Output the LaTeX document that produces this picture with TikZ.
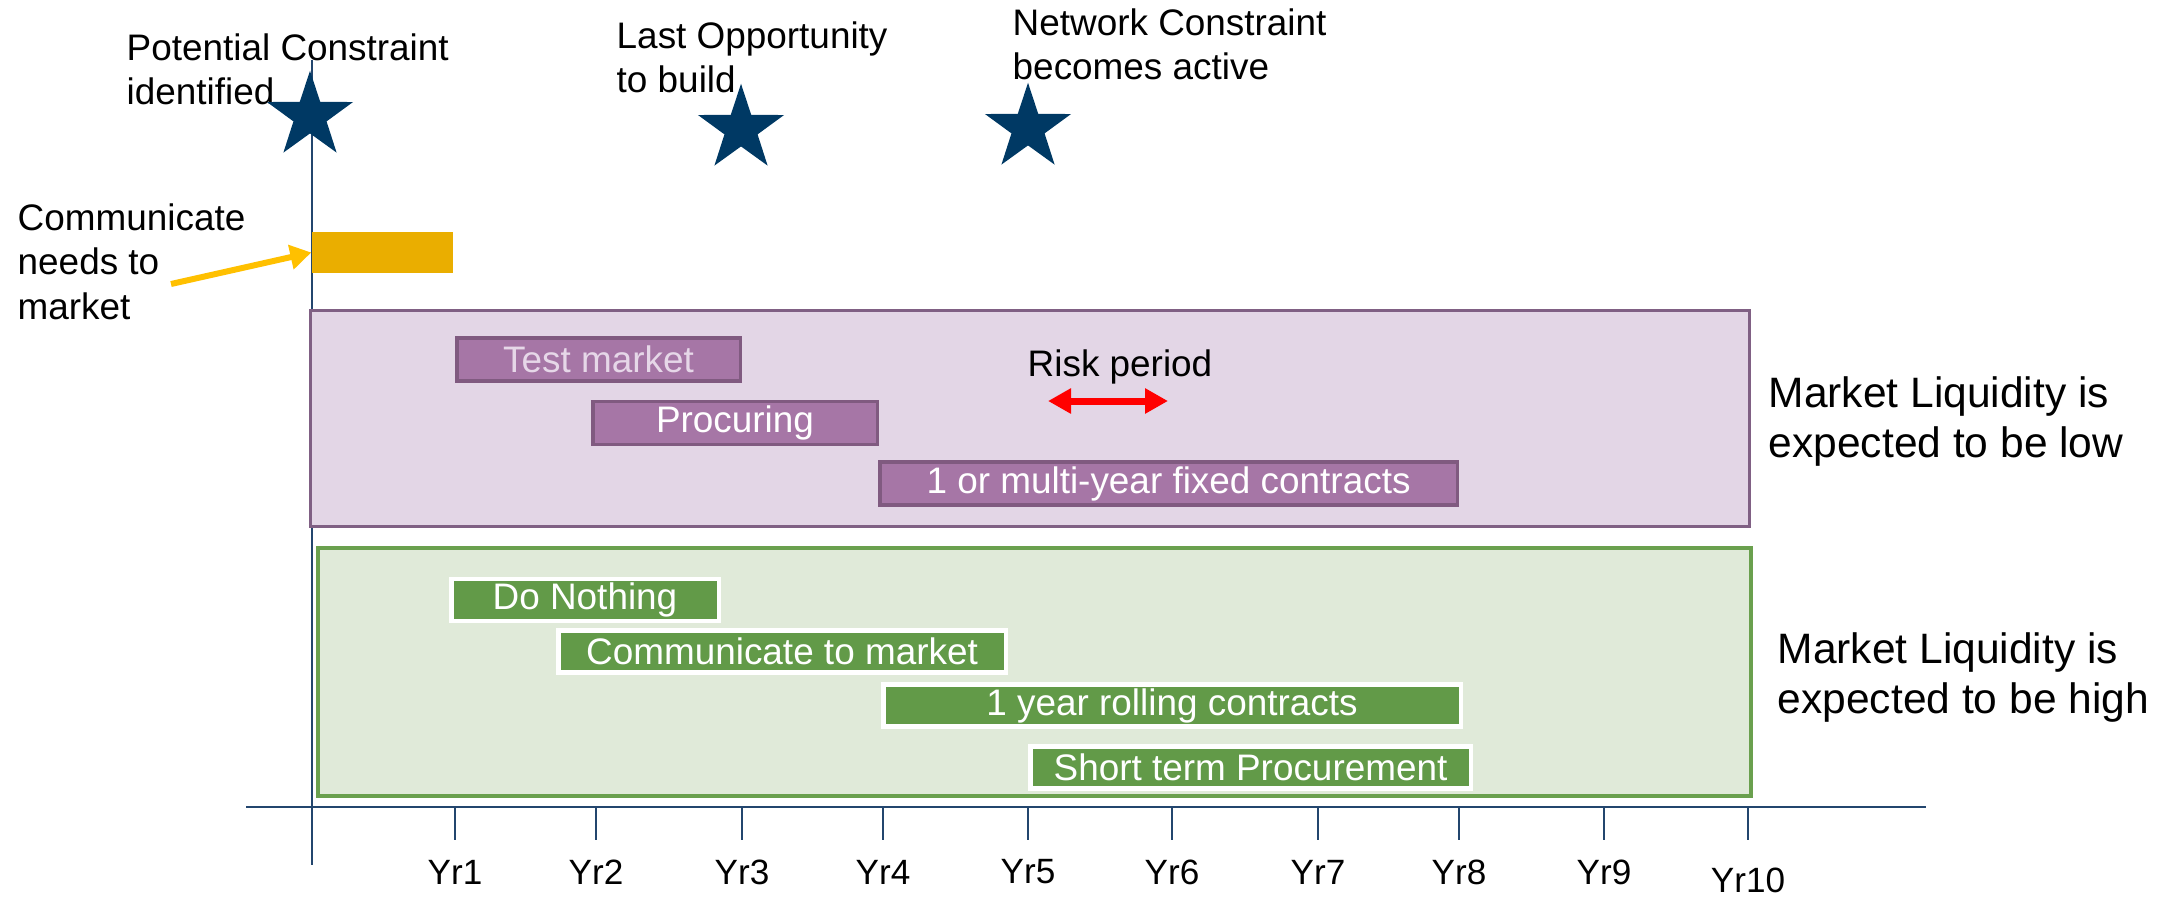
\documentclass[tikz,border=0pt]{standalone}
\usepackage{fontspec}
\setmainfont{Liberation Sans}
\usetikzlibrary{shapes.geometric,arrows.meta}

\definecolor{starblue}{RGB}{0,57,100}
\definecolor{axisblue}{RGB}{35,70,110}
\definecolor{barorange}{RGB}{234,174,0}
\definecolor{arrowyellow}{RGB}{255,192,0}
\definecolor{lowfill}{RGB}{227,214,230}
\definecolor{lowedge}{RGB}{128,96,132}
\definecolor{purplebar}{RGB}{166,118,166}
\definecolor{purpleedge}{RGB}{128,90,128}
\definecolor{paletext}{RGB}{230,215,232}
\definecolor{highfill}{RGB}{224,234,217}
\definecolor{highedge}{RGB}{106,160,78}
\definecolor{greenbar}{RGB}{98,154,72}

\begin{document}
\begin{tikzpicture}[x=0.1mm,y=-0.1mm,
    lbl/.style={font=\fontsize{10.5}{12.6}\selectfont,align=left,anchor=north west,inner sep=0pt},
    biglbl/.style={font=\fontsize{12.1}{14.2}\selectfont,align=left,anchor=north west,inner sep=0pt},
    yrlbl/.style={font=\fontsize{10}{12}\selectfont,inner sep=0pt},
    axisline/.style={draw=axisblue,line width=0.2mm},
    milestone/.style={star,star points=5,star point ratio=2.6,fill=starblue,draw=starblue,minimum size=8.6mm,inner sep=0pt},
    panel/.style={rectangle,inner sep=0pt},
    pbar/.style={rectangle,fill=purplebar,draw=purpleedge,line width=0.35mm,text=white,inner sep=0pt,minimum height=4.3mm,font=\fontsize{10.5}{12}\selectfont},
    gbar/.style={rectangle,fill=greenbar,draw=white,line width=0.45mm,text=white,inner sep=0pt,minimum height=4.2mm,font=\fontsize{10.5}{12}\selectfont}]
  \useasboundingbox (0,0) rectangle (2167,897);

  % time axis
  \coordinate (axisN) at ( 312,  60);
  \coordinate (axisS) at ( 312, 865);
  \coordinate (axisW) at ( 246, 807);
  \coordinate (axisE) at (1926, 807);
  \draw[axisline] (axisN) -- (axisS);
  \draw[axisline] (axisW) -- (axisE);

  \node[yrlbl] (yr1)  at ( 455, 872) {Yr1};
  \node[yrlbl] (yr2)  at ( 596, 872) {Yr2};
  \node[yrlbl] (yr3)  at ( 742, 872) {Yr3};
  \node[yrlbl] (yr4)  at ( 883, 872) {Yr4};
  \node[yrlbl] (yr5)  at (1028, 872) {Yr5};
  \node[yrlbl] (yr6)  at (1172, 872) {Yr6};
  \node[yrlbl] (yr7)  at (1318, 872) {Yr7};
  \node[yrlbl] (yr8)  at (1459, 872) {Yr8};
  \node[yrlbl] (yr9)  at (1604, 872) {Yr9};
  \node[yrlbl] (yr10) at (1748, 880) {Yr10};
  \draw[axisline] (yr1  |- axisW) -- ++(0,33);
  \draw[axisline] (yr2  |- axisW) -- ++(0,33);
  \draw[axisline] (yr3  |- axisW) -- ++(0,33);
  \draw[axisline] (yr4  |- axisW) -- ++(0,33);
  \draw[axisline] (yr5  |- axisW) -- ++(0,33);
  \draw[axisline] (yr6  |- axisW) -- ++(0,33);
  \draw[axisline] (yr7  |- axisW) -- ++(0,33);
  \draw[axisline] (yr8  |- axisW) -- ++(0,33);
  \draw[axisline] (yr9  |- axisW) -- ++(0,33);
  \draw[axisline] (yr10 |- axisW) -- ++(0,33);

  % milestones
  \node[lbl]       (pcTxt)   at ( 126,  33) {Potential Constraint\\identified};
  \node[lbl]       (lastTxt) at ( 616,  21) {Last Opportunity\\to build};
  \node[lbl]       (netTxt)  at (1012,   8) {Network Constraint\\becomes active};
  \node[milestone] (pcStar)  at ( 310, 116) {};
  \node[milestone] (lastStar) at ( 741, 129) {};
  \node[milestone] (netStar) at (1028, 128) {};

  % communicate needs
  \node[rectangle,fill=barorange,inner sep=0pt,minimum width=14.1mm,minimum height=4.1mm] (needBar) at (382.5, 252.5) {};
  \node[lbl]       (needTxt) at (  17, 203) {Communicate\\needs to\\market};
  \coordinate (needTail) at (171, 284);
  \draw[arrowyellow,line width=0.6mm,-{Triangle[length=2.1mm,width=2.4mm]}] (needTail) to (needBar.west);

  % low liquidity
  \node[panel,fill=lowfill,draw=lowedge,line width=0.3mm,minimum width=143.9mm,minimum height=21.6mm] (lowBox) at (1030, 418.5) {};
  \node[pbar,text=paletext,minimum width=28.35mm] (testMkt)  at ( 598.5, 359.5) {Test market};
  \node[pbar,minimum width=28.45mm]                (procuring) at ( 735.0, 423.0) {Procuring};
  \node[pbar,minimum width=57.75mm]                (fixedCtr) at (1168.5, 483.5) {1 or multi-year fixed contracts};
  \node[lbl,anchor=base] (riskTxt) at (1120, 376) {Risk period};
  \coordinate (riskL) at (1048, 401);
  \coordinate (riskR) at (1168, 401);
  \draw[red,line width=0.7mm,{Triangle[length=2.3mm,width=2.4mm]}-{Triangle[length=2.3mm,width=2.4mm]}] (riskL) -- (riskR);
  \node[biglbl]    (lowTxt)  at (1768, 376) {Market Liquidity is\\expected to be low};

  % high liquidity
  \node[panel,fill=highfill,draw=highedge,line width=0.4mm,minimum width=143.3mm,minimum height=24.8mm] (highBox) at (1034.5, 672) {};
  \node[gbar,minimum width=26.75mm] (doNothing) at ( 585.0, 600.0) {Do Nothing};
  \node[gbar,minimum width=44.75mm] (commMkt)   at ( 782.0, 651.5) {Communicate to market};
  \node[gbar,minimum width=57.75mm] (rollCtr)   at (1172.0, 705.5) {1 year rolling contracts};
  \node[gbar,minimum width=44.05mm] (shortProc) at (1250.5, 767.5) {Short term Procurement};
  \node[biglbl]    (highTxt) at (1777, 632) {Market Liquidity is\\expected to be high};
\end{tikzpicture}
\end{document}
